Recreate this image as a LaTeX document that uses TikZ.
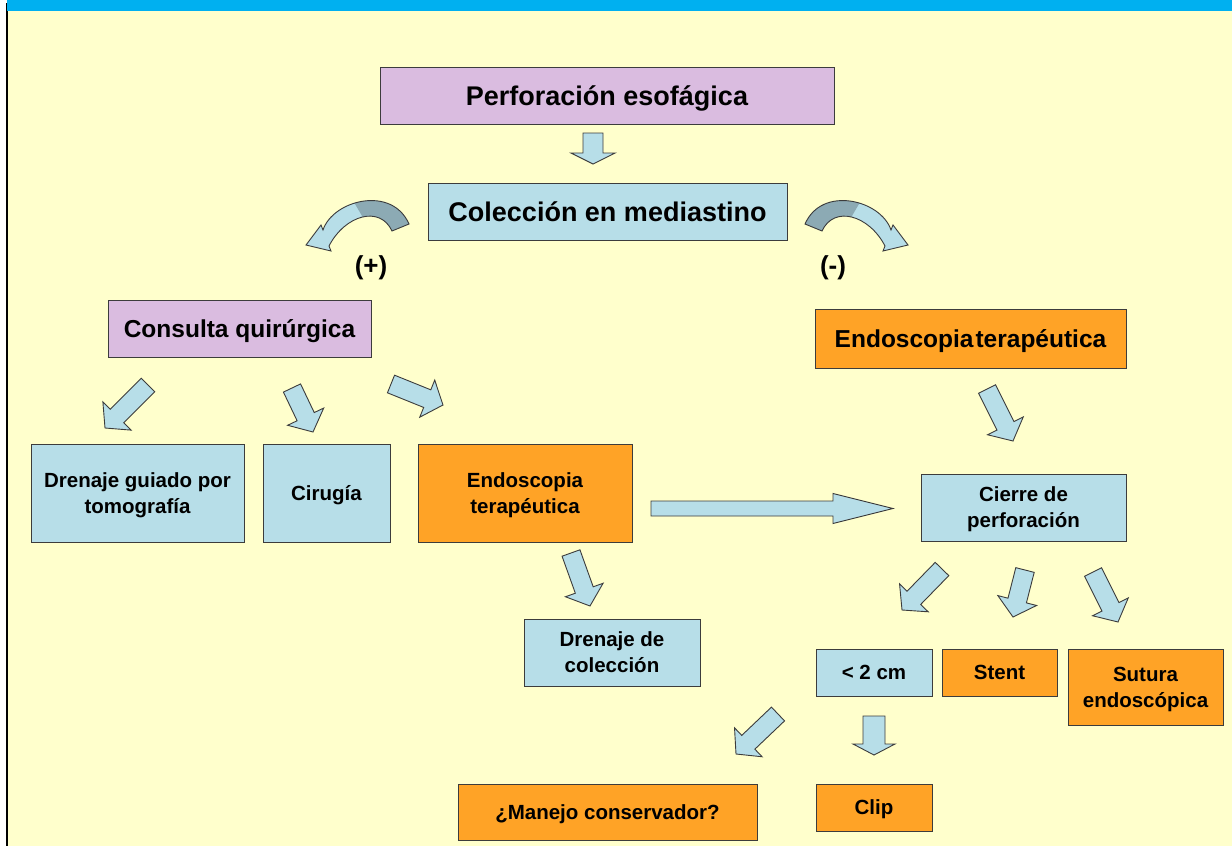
\documentclass[tikz,border=0pt]{standalone}
\usepackage{fontspec}
\setmainfont{Liberation Sans}
\usetikzlibrary{calc}

\definecolor{bgyellow}{RGB}{255,255,204}
\definecolor{topblue}{RGB}{0,176,240}
\definecolor{lilac}{RGB}{218,188,224}
\definecolor{paleblue}{RGB}{183,222,232}
\definecolor{amber}{RGB}{255,163,38}
\definecolor{edgegray}{RGB}{60,60,60}
\definecolor{shadeblue}{RGB}{140,170,180}

% straight block arrow: tail, tip, shaft half-width, head half-width, head length
\newcommand\blockarrow[5]{%
  \coordinate (hb) at ($(#2)!#5!(#1)$);
  \draw[flowarrow]
    ($(#1)!#3!90:(#2)$) -- ($(hb)!#3!90:(#2)$) -- ($(hb)!#4!90:(#2)$) -- (#2)
    -- ($(hb)!#4!-90:(#2)$) -- ($(hb)!#3!-90:(#2)$) -- ($(#1)!#3!-90:(#2)$) -- cycle;
}

\tikzset{
  box/.style={draw=edgegray, line width=0.9pt, inner sep=0pt, align=center, text depth=0pt,
              font=\bfseries\fontsize{20.5}{26}\selectfont},
  bigtext/.style={font=\bfseries\fontsize{27}{32}\selectfont},
  midtext/.style={font=\bfseries\fontsize{24.5}{29}\selectfont},
  lilacbox/.style={box, fill=lilac},
  bluebox/.style={box, fill=paleblue},
  amberbox/.style={box, fill=amber},
  flowarrow/.style={draw=edgegray, fill=paleblue, line width=0.9pt, line join=miter},
  signlabel/.style={font=\bfseries\fontsize{26}{30}\selectfont},
  % ribbon-shaped curved arrow, tail on the right, head down-left
  pics/ribbonarrow/.style={code={
    \def\ribbon{(-34,5) .. controls (-24,-25) and (35,-40) .. (52,-1) -- (35,6)
      .. controls (23,-20) and (-12,-10) .. (-28,21) -- (-26,26) -- (-51,20) -- (-36,0) -- cycle}
    \fill[paleblue] \ribbon;
    \begin{scope}
      \clip (-16,-45) -- (70,-45) -- (70,25) -- (22,20) -- cycle;
      \fill[shadeblue] \ribbon;
    \end{scope}
    \draw[edgegray, line width=0.9pt, line join=miter] \ribbon;
  }}
}

\begin{document}
\begin{tikzpicture}[x=1pt, y=-1pt]
  \useasboundingbox (0,0) rectangle (1232,846);

  % page background
  \fill[white] (0,0) rectangle (1232,846);
  \fill[bgyellow] (7,0) rectangle (1232,846);
  \draw[black, line width=1.3pt] (7,3) -- (7,846);
  \fill[topblue] (7,0) rectangle (1232,11);

  % boxes
  \node[lilacbox, bigtext, minimum width=454pt, minimum height=57pt] (perf) at (607,95.5) {Perforación esofágica};
  \node[bluebox, bigtext, minimum width=359pt, minimum height=57pt] (col) at (607.5,211.5) {Colección en mediastino};
  \node[lilacbox, midtext, minimum width=263pt, minimum height=57pt] (cons) at (239.5,328.5) {Consulta quirúrgica};
  \node[amberbox, midtext, minimum width=311pt, minimum height=59pt] (endoR) at (970.5,338.5) {Endoscopia\hspace{0.08em}terapéutica};

  \node[bluebox, minimum width=213pt, minimum height=98pt] (dren) at (137.5,493) {Drenaje guiado por\\tomografía};
  \node[bluebox, minimum width=127pt, minimum height=98pt] (cir) at (326.5,493) {Cirugía};
  \node[amberbox, minimum width=214pt, minimum height=98pt] (endoM) at (525,493) {Endoscopia\\terapéutica};
  \node[bluebox, minimum width=205pt, minimum height=67pt] (cierre) at (1023.5,507.5) {Cierre de\\perforación};
  \node[bluebox, minimum width=176pt, minimum height=67pt] (drcol) at (612,652.5) {Drenaje de\\colección};

  \node[bluebox, minimum width=116pt, minimum height=47pt] (small) at (874,672.5) {< 2 cm};
  \node[amberbox, minimum width=115pt, minimum height=47pt] (stent) at (999.5,672.5) {Stent};
  \node[amberbox, minimum width=155pt, minimum height=76pt] (sutura) at (1145.5,687) {Sutura\\endoscópica};
  \node[amberbox, minimum width=299pt, minimum height=56pt] (manejo) at (607.5,812) {¿Manejo conservador?};
  \node[amberbox, minimum width=116pt, minimum height=47pt] (clip) at (874,807.5) {Clip};

  % branch signs
  \node[signlabel] (pos) at (371,268) {(+)};
  \node[signlabel] (neg) at (833,268) {(-)};

  % curved branch arrows
  \pic (curveL) at (357,225) {ribbonarrow};
  \pic[xscale=-1] (curveR) at (857,225) {ribbonarrow};

  % block arrow end points
  \coordinate (t0) at (593,133);  \coordinate (h0) at (593,164);
  \coordinate (t1) at (148,385);  \coordinate (h1) at (105,428);
  \coordinate (t2) at (292,388);  \coordinate (h2) at (313,432);
  \coordinate (t3) at (391,384);  \coordinate (h3) at (443,405);
  \coordinate (t4) at (987,389);  \coordinate (h4) at (1013,441);
  \coordinate (t5) at (571,553);  \coordinate (h5) at (590,606);
  \coordinate (t6) at (651,508.5); \coordinate (h6) at (893,508.5);
  \coordinate (t7) at (942,569);  \coordinate (h7) at (902,610);
  \coordinate (t8) at (1025,570); \coordinate (h8) at (1013,617);
  \coordinate (t9) at (1093,572); \coordinate (h9) at (1118,622);
  \coordinate (t10) at (778,714); \coordinate (h10) at (736,754);
  \coordinate (t11) at (874,716); \coordinate (h11) at (874,755);

  % block arrows
  \blockarrow{t0}{h0}{10pt}{22pt}{11pt}
  \blockarrow{t1}{h1}{9.5pt}{20pt}{17pt}
  \blockarrow{t2}{h2}{9.5pt}{20pt}{17pt}
  \blockarrow{t3}{h3}{9.5pt}{20pt}{17pt}
  \blockarrow{t4}{h4}{9.5pt}{20pt}{17pt}
  \blockarrow{t5}{h5}{9.5pt}{20pt}{17pt}
  \blockarrow{t6}{h6}{7.5pt}{15pt}{60pt}
  \blockarrow{t7}{h7}{9.5pt}{20pt}{17pt}
  \blockarrow{t8}{h8}{9.5pt}{20pt}{17pt}
  \blockarrow{t9}{h9}{9.5pt}{20pt}{17pt}
  \blockarrow{t10}{h10}{9.5pt}{20pt}{17pt}
  \blockarrow{t11}{h11}{11pt}{21pt}{11pt}
\end{tikzpicture}
\end{document}
